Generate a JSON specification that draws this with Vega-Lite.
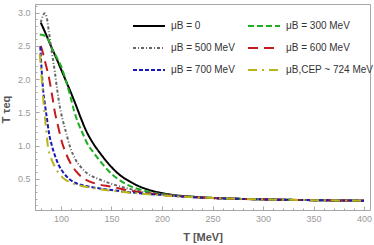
{
  "$schema": "https://vega.github.io/schema/vega-lite/v6.json",
  "width": 335,
  "height": 206,
  "autosize": {"type": "none"},
  "padding": {"left": 35, "top": 4, "right": 4, "bottom": 35},
  "background": "white",
  "config": {"view": {"stroke": "#a8a8a8", "strokeWidth": 1}, "font": "Liberation Sans"},
  "datasets": {
    "curves": [
      {"mu": "μB = 0", "T": 80, "v": 2.85}, {"mu": "μB = 0", "T": 85, "v": 2.68}, {"mu": "μB = 0", "T": 90, "v": 2.5}, {"mu": "μB = 0", "T": 95, "v": 2.33}, {"mu": "μB = 0", "T": 100, "v": 2.15}, {"mu": "μB = 0", "T": 105, "v": 1.97}, {"mu": "μB = 0", "T": 110, "v": 1.79}, {"mu": "μB = 0", "T": 115, "v": 1.6}, {"mu": "μB = 0", "T": 119, "v": 1.44}, {"mu": "μB = 0", "T": 125, "v": 1.22}, {"mu": "μB = 0", "T": 132, "v": 1.03}, {"mu": "μB = 0", "T": 139, "v": 0.88}, {"mu": "μB = 0", "T": 148, "v": 0.71}, {"mu": "μB = 0", "T": 158, "v": 0.56}, {"mu": "μB = 0", "T": 168, "v": 0.46}, {"mu": "μB = 0", "T": 180, "v": 0.37}, {"mu": "μB = 0", "T": 190, "v": 0.32}, {"mu": "μB = 0", "T": 200, "v": 0.285}, {"mu": "μB = 0", "T": 215, "v": 0.25}, {"mu": "μB = 0", "T": 230, "v": 0.23}, {"mu": "μB = 0", "T": 250, "v": 0.212}, {"mu": "μB = 0", "T": 300, "v": 0.19}, {"mu": "μB = 0", "T": 350, "v": 0.178}, {"mu": "μB = 0", "T": 400, "v": 0.17},
      {"mu": "μB = 300 MeV", "T": 79, "v": 2.67}, {"mu": "μB = 300 MeV", "T": 82, "v": 2.665}, {"mu": "μB = 300 MeV", "T": 85, "v": 2.64}, {"mu": "μB = 300 MeV", "T": 88, "v": 2.58}, {"mu": "μB = 300 MeV", "T": 91, "v": 2.46}, {"mu": "μB = 300 MeV", "T": 96, "v": 2.32}, {"mu": "μB = 300 MeV", "T": 101, "v": 2.16}, {"mu": "μB = 300 MeV", "T": 105, "v": 1.97}, {"mu": "μB = 300 MeV", "T": 109, "v": 1.76}, {"mu": "μB = 300 MeV", "T": 113, "v": 1.52}, {"mu": "μB = 300 MeV", "T": 117, "v": 1.34}, {"mu": "μB = 300 MeV", "T": 121, "v": 1.2}, {"mu": "μB = 300 MeV", "T": 126, "v": 1.03}, {"mu": "μB = 300 MeV", "T": 133, "v": 0.88}, {"mu": "μB = 300 MeV", "T": 139, "v": 0.76}, {"mu": "μB = 300 MeV", "T": 147, "v": 0.62}, {"mu": "μB = 300 MeV", "T": 157, "v": 0.49}, {"mu": "μB = 300 MeV", "T": 167, "v": 0.4}, {"mu": "μB = 300 MeV", "T": 180, "v": 0.33}, {"mu": "μB = 300 MeV", "T": 190, "v": 0.29}, {"mu": "μB = 300 MeV", "T": 200, "v": 0.27}, {"mu": "μB = 300 MeV", "T": 215, "v": 0.245}, {"mu": "μB = 300 MeV", "T": 230, "v": 0.228}, {"mu": "μB = 300 MeV", "T": 250, "v": 0.212}, {"mu": "μB = 300 MeV", "T": 300, "v": 0.19}, {"mu": "μB = 300 MeV", "T": 350, "v": 0.178}, {"mu": "μB = 300 MeV", "T": 400, "v": 0.17},
      {"mu": "μB = 500 MeV", "T": 80, "v": 2.85}, {"mu": "μB = 500 MeV", "T": 82, "v": 2.95}, {"mu": "μB = 500 MeV", "T": 84, "v": 2.99}, {"mu": "μB = 500 MeV", "T": 86, "v": 2.92}, {"mu": "μB = 500 MeV", "T": 88, "v": 2.72}, {"mu": "μB = 500 MeV", "T": 90, "v": 2.5}, {"mu": "μB = 500 MeV", "T": 92, "v": 2.3}, {"mu": "μB = 500 MeV", "T": 94, "v": 2.1}, {"mu": "μB = 500 MeV", "T": 96, "v": 1.87}, {"mu": "μB = 500 MeV", "T": 98, "v": 1.66}, {"mu": "μB = 500 MeV", "T": 100, "v": 1.5}, {"mu": "μB = 500 MeV", "T": 102, "v": 1.37}, {"mu": "μB = 500 MeV", "T": 105, "v": 1.2}, {"mu": "μB = 500 MeV", "T": 109, "v": 0.98}, {"mu": "μB = 500 MeV", "T": 114, "v": 0.8}, {"mu": "μB = 500 MeV", "T": 120, "v": 0.67}, {"mu": "μB = 500 MeV", "T": 127, "v": 0.57}, {"mu": "μB = 500 MeV", "T": 135, "v": 0.51}, {"mu": "μB = 500 MeV", "T": 145, "v": 0.45}, {"mu": "μB = 500 MeV", "T": 155, "v": 0.4}, {"mu": "μB = 500 MeV", "T": 170, "v": 0.34}, {"mu": "μB = 500 MeV", "T": 185, "v": 0.29}, {"mu": "μB = 500 MeV", "T": 200, "v": 0.265}, {"mu": "μB = 500 MeV", "T": 220, "v": 0.235}, {"mu": "μB = 500 MeV", "T": 250, "v": 0.21}, {"mu": "μB = 500 MeV", "T": 300, "v": 0.19}, {"mu": "μB = 500 MeV", "T": 350, "v": 0.178}, {"mu": "μB = 500 MeV", "T": 400, "v": 0.17},
      {"mu": "μB = 600 MeV", "T": 80, "v": 2.5}, {"mu": "μB = 600 MeV", "T": 82, "v": 2.4}, {"mu": "μB = 600 MeV", "T": 85, "v": 2.22}, {"mu": "μB = 600 MeV", "T": 88, "v": 2.03}, {"mu": "μB = 600 MeV", "T": 91, "v": 1.78}, {"mu": "μB = 600 MeV", "T": 94, "v": 1.5}, {"mu": "μB = 600 MeV", "T": 97, "v": 1.3}, {"mu": "μB = 600 MeV", "T": 101, "v": 1.05}, {"mu": "μB = 600 MeV", "T": 105, "v": 0.88}, {"mu": "μB = 600 MeV", "T": 110, "v": 0.72}, {"mu": "μB = 600 MeV", "T": 115, "v": 0.61}, {"mu": "μB = 600 MeV", "T": 121, "v": 0.52}, {"mu": "μB = 600 MeV", "T": 128, "v": 0.46}, {"mu": "μB = 600 MeV", "T": 136, "v": 0.42}, {"mu": "μB = 600 MeV", "T": 150, "v": 0.38}, {"mu": "μB = 600 MeV", "T": 165, "v": 0.33}, {"mu": "μB = 600 MeV", "T": 180, "v": 0.295}, {"mu": "μB = 600 MeV", "T": 200, "v": 0.26}, {"mu": "μB = 600 MeV", "T": 220, "v": 0.235}, {"mu": "μB = 600 MeV", "T": 250, "v": 0.21}, {"mu": "μB = 600 MeV", "T": 300, "v": 0.19}, {"mu": "μB = 600 MeV", "T": 350, "v": 0.178}, {"mu": "μB = 600 MeV", "T": 400, "v": 0.17},
      {"mu": "μB = 700 MeV", "T": 79.5, "v": 2.49}, {"mu": "μB = 700 MeV", "T": 81, "v": 2.11}, {"mu": "μB = 700 MeV", "T": 82.5, "v": 1.81}, {"mu": "μB = 700 MeV", "T": 84, "v": 1.63}, {"mu": "μB = 700 MeV", "T": 86, "v": 1.42}, {"mu": "μB = 700 MeV", "T": 88, "v": 1.2}, {"mu": "μB = 700 MeV", "T": 91, "v": 1.0}, {"mu": "μB = 700 MeV", "T": 94, "v": 0.85}, {"mu": "μB = 700 MeV", "T": 98, "v": 0.7}, {"mu": "μB = 700 MeV", "T": 103, "v": 0.58}, {"mu": "μB = 700 MeV", "T": 108, "v": 0.5}, {"mu": "μB = 700 MeV", "T": 114, "v": 0.44}, {"mu": "μB = 700 MeV", "T": 122, "v": 0.4}, {"mu": "μB = 700 MeV", "T": 132, "v": 0.37}, {"mu": "μB = 700 MeV", "T": 145, "v": 0.34}, {"mu": "μB = 700 MeV", "T": 160, "v": 0.31}, {"mu": "μB = 700 MeV", "T": 180, "v": 0.28}, {"mu": "μB = 700 MeV", "T": 200, "v": 0.255}, {"mu": "μB = 700 MeV", "T": 220, "v": 0.232}, {"mu": "μB = 700 MeV", "T": 250, "v": 0.21}, {"mu": "μB = 700 MeV", "T": 300, "v": 0.19}, {"mu": "μB = 700 MeV", "T": 350, "v": 0.178}, {"mu": "μB = 700 MeV", "T": 400, "v": 0.17},
      {"mu": "μB,CEP ~ 724 MeV", "T": 79, "v": 2.38}, {"mu": "μB,CEP ~ 724 MeV", "T": 80, "v": 2.2}, {"mu": "μB,CEP ~ 724 MeV", "T": 81.5, "v": 1.9}, {"mu": "μB,CEP ~ 724 MeV", "T": 83, "v": 1.6}, {"mu": "μB,CEP ~ 724 MeV", "T": 85, "v": 1.3}, {"mu": "μB,CEP ~ 724 MeV", "T": 87, "v": 1.0}, {"mu": "μB,CEP ~ 724 MeV", "T": 90, "v": 0.82}, {"mu": "μB,CEP ~ 724 MeV", "T": 94, "v": 0.68}, {"mu": "μB,CEP ~ 724 MeV", "T": 99, "v": 0.56}, {"mu": "μB,CEP ~ 724 MeV", "T": 104, "v": 0.49}, {"mu": "μB,CEP ~ 724 MeV", "T": 110, "v": 0.44}, {"mu": "μB,CEP ~ 724 MeV", "T": 118, "v": 0.4}, {"mu": "μB,CEP ~ 724 MeV", "T": 128, "v": 0.37}, {"mu": "μB,CEP ~ 724 MeV", "T": 140, "v": 0.34}, {"mu": "μB,CEP ~ 724 MeV", "T": 160, "v": 0.305}, {"mu": "μB,CEP ~ 724 MeV", "T": 180, "v": 0.275}, {"mu": "μB,CEP ~ 724 MeV", "T": 200, "v": 0.252}, {"mu": "μB,CEP ~ 724 MeV", "T": 220, "v": 0.23}, {"mu": "μB,CEP ~ 724 MeV", "T": 250, "v": 0.21}, {"mu": "μB,CEP ~ 724 MeV", "T": 300, "v": 0.19}, {"mu": "μB,CEP ~ 724 MeV", "T": 350, "v": 0.178}, {"mu": "μB,CEP ~ 724 MeV", "T": 400, "v": 0.17}
    ]
  },
  "data": {"name": "curves"},
  "layer": [
    {
      "mark": {"type": "line", "strokeWidth": 2, "interpolate": "monotone", "clip": true},
      "encoding": {
        "x": {
          "field": "T", "type": "quantitative",
          "scale": {"domain": [74.3, 405.9], "nice": false, "zero": false},
          "axis": {
            "values": [100, 150, 200, 250, 300, 350, 400],
            "format": "d",
            "tickSize": -4,
            "tickColor": "#a8a8a8", "domainColor": "#a8a8a8",
            "labelColor": "#999999", "labelFontSize": 9, "labelPadding": 8, "labelOverlap": false, "labelFlush": false,
            "grid": false,
            "title": "T [MeV]", "titleFontSize": 11, "titleFontWeight": "bold", "titleColor": "#555555", "titlePadding": 8
          }
        },
        "y": {
          "field": "v", "type": "quantitative",
          "scale": {"domain": [0.03, 3.13], "nice": false, "zero": false},
          "axis": {
            "values": [0.5, 1.0, 1.5, 2.0, 2.5, 3.0],
            "format": ".1f",
            "tickSize": -4,
            "tickColor": "#a8a8a8", "domainColor": "#a8a8a8",
            "labelColor": "#999999", "labelFontSize": 9, "labelPadding": 9, "labelOverlap": false, "labelFlush": false,
            "grid": false,
            "title": "T τeq", "titleFontSize": 11, "titleFontWeight": "bold", "titleColor": "#555555", "titleX": -24, "titleY": 105
          }
        },
        "color": {
          "field": "mu", "type": "nominal",
          "scale": {
            "domain": ["μB = 0", "μB = 300 MeV", "μB = 500 MeV", "μB = 600 MeV", "μB = 700 MeV", "μB,CEP ~ 724 MeV"],
            "range": ["#000000", "#1fae1f", "#666666", "#c41a1a", "#1a1ab8", "#b9b418"]
          },
          "legend": {"orient": "none", "legendX": 97, "legendY": 5, "columns": 2, "direction": "horizontal", "gridAlign": "each", "title": null, "symbolType": "stroke", "symbolSize": 1024, "symbolStrokeWidth": 2, "labelFontSize": 10, "labelColor": "#333333", "labelOffset": 5, "columnPadding": 9, "rowPadding": -5, "padding": 0}
        },
        "strokeDash": {
          "field": "mu", "type": "nominal",
          "scale": {
            "domain": ["μB = 0", "μB = 300 MeV", "μB = 500 MeV", "μB = 600 MeV", "μB = 700 MeV", "μB,CEP ~ 724 MeV"],
            "range": [[1, 0], [6, 3], [3, 2, 1, 2], [10, 6], [4, 2], [9, 5, 2, 5]]
          },
          "legend": {"orient": "none", "legendX": 97, "legendY": 5, "columns": 2, "direction": "horizontal", "gridAlign": "each", "title": null, "symbolType": "stroke", "symbolSize": 1024, "symbolStrokeWidth": 2, "labelFontSize": 10, "labelColor": "#333333", "labelOffset": 5, "columnPadding": 9, "rowPadding": -5, "padding": 0}
        }
      }
    },
    {
      "mark": {"type": "line", "opacity": 0},
      "encoding": {
        "x": {
          "field": "T", "type": "quantitative",
          "scale": {"domain": [74.3, 405.9], "nice": false, "zero": false},
          "axis": {
            "orient": "bottom",
            "values": [80, 90, 110, 120, 130, 140, 160, 170, 180, 190, 210, 220, 230, 240, 260, 270, 280, 290, 310, 320, 330, 340, 360, 370, 380, 390],
            "labels": false, "title": null, "grid": false, "domain": false,
            "tickSize": -2, "tickColor": "#a8a8a8"
          }
        },
        "y": {
          "field": "v", "type": "quantitative",
          "scale": {"domain": [0.03, 3.13], "nice": false, "zero": false},
          "axis": {
            "orient": "left",
            "values": [0.1, 0.2, 0.3, 0.4, 0.6, 0.7, 0.8, 0.9, 1.1, 1.2, 1.3, 1.4, 1.6, 1.7, 1.8, 1.9, 2.1, 2.2, 2.3, 2.4, 2.6, 2.7, 2.8, 2.9, 3.1],
            "labels": false, "title": null, "grid": false, "domain": false,
            "tickSize": -2, "tickColor": "#a8a8a8"
          }
        },
        "detail": {"field": "mu", "type": "nominal"}
      }
    }
  ],
  "resolve": {"axis": {"x": "independent", "y": "independent"}}
}
